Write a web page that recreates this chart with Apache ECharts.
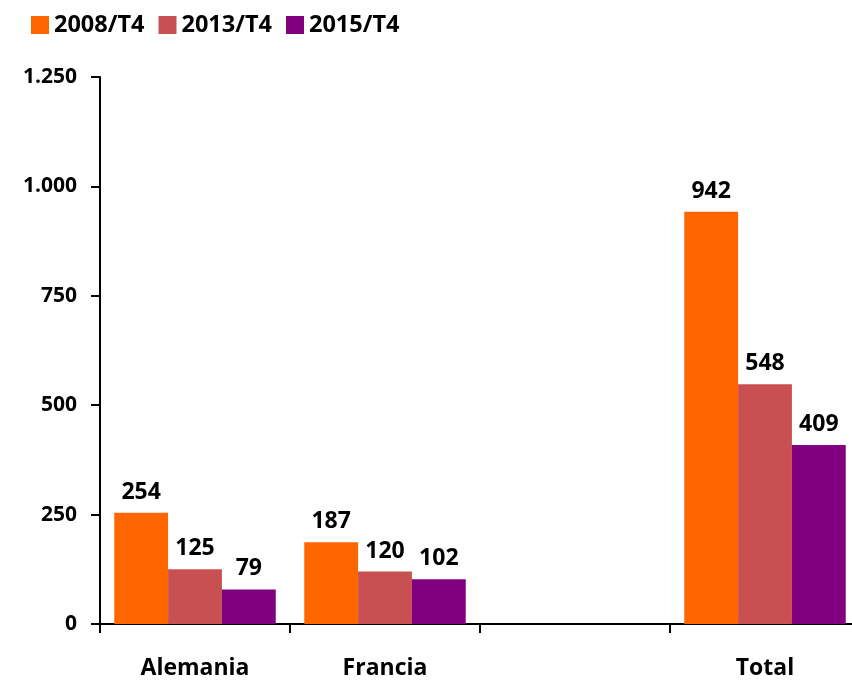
<!DOCTYPE html>
<html>
<head>
<meta charset="utf-8">
<script src="https://cdn.jsdelivr.net/npm/echarts@6/dist/echarts.min.js"></script>
<style>
  html, body { margin: 0; padding: 0; background: #fff; }
  #chart { width: 852px; height: 682px; }
</style>
</head>
<body>
<div id="chart"></div>
<script>
// data
const categories = ['Alemania', 'Francia', '', 'Total']
const s2008 = [254, 187, null, 942]
const s2013 = [125, 120, null, 548]
const s2015 = [79, 102, null, 409]
const yTicks = [0, 250, 500, 750, 1000, 1250]

const font = '"Open Sans", "DejaVu Sans", sans-serif'

const myChart = echarts.init(document.getElementById('chart'))

function fmt (v) {
  // spanish thousands separator
  return String(v).replace(/\B(?=(\d{3})+(?!\d))/g, '.')
}

function barSeries (name, color, data) {
  return {
    name: name,
    type: 'bar',
    color: color,
    barGap: 0,
    barCategoryGap: '15%',
    label: {
      show: true,
      position: 'top',
      distance: 9,
      color: '#000',
      fontFamily: font,
      fontWeight: 'bold',
      fontSize: 23
    },
    data: data
  }
}

const option = {
  animation: false,
  backgroundColor: '#fff',
  textStyle: { fontFamily: font },
  legend: {
    left: 26,
    top: 8,
    itemWidth: 18,
    itemHeight: 18,
    itemGap: 14,
    icon: 'rect',
    textStyle: { fontFamily: font, fontWeight: 'bold', fontSize: 23.5, color: '#000' },
    data: ['2008/T4', '2013/T4', '2015/T4']
  },
  grid: {
    left: 100,
    top: 77,
    width: 760,
    bottom: 58,
    containLabel: false,
    outerBoundsMode: 'none'
  },
  xAxis: {
    type: 'category',
    data: categories,
    axisLine: { lineStyle: { color: '#000', width: 2 } },
    axisTick: { show: true, length: 9, lineStyle: { color: '#000', width: 2 } },
    axisLabel: {
      color: '#000',
      fontFamily: font,
      fontWeight: 'bold',
      fontSize: 23,
      margin: 33
    }
  },
  yAxis: {
    type: 'value',
    min: yTicks[0],
    max: yTicks[yTicks.length - 1],
    interval: 250,
    splitLine: { show: false },
    axisLine: { show: true, lineStyle: { color: '#000', width: 2 } },
    axisTick: { show: true, length: 9, lineStyle: { color: '#000', width: 2 } },
    axisLabel: {
      color: '#000',
      fontFamily: font,
      fontWeight: 'bold',
      fontSize: 21,
      margin: 23,
      formatter: fmt
    }
  },
  series: [
    barSeries('2008/T4', '#ff6600', s2008),
    barSeries('2013/T4', '#c85050', s2013),
    barSeries('2015/T4', '#800080', s2015)
  ]
}
myChart.setOption(option)
</script>
</body>
</html>
